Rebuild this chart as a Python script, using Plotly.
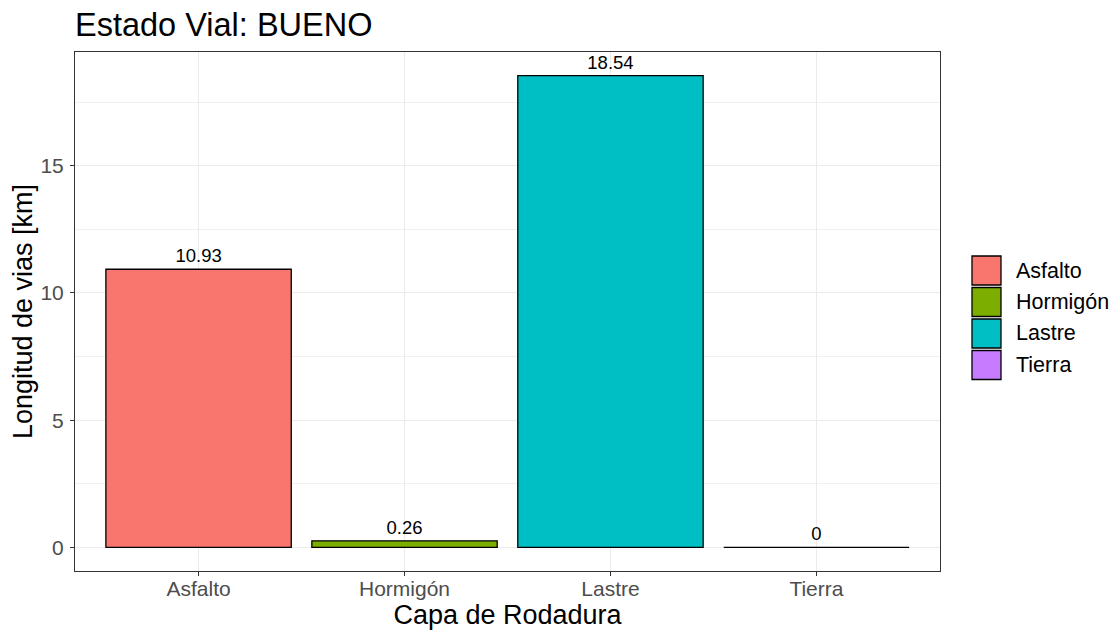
import plotly.graph_objects as go

categories = ["Asfalto", "Hormigón", "Lastre", "Tierra"]
values = [10.93, 0.26, 18.54, 0]
labels = ["10.93", "0.26", "18.54", "0"]
colors = ["#F8766D", "#7CAE00", "#00BFC4", "#C77CFF"]
title = "Estado Vial: BUENO"
x_title = "Capa de Rodadura"
y_title = "Longitud de vias [km]"
y_ticks = [0, 5, 10, 15]

OFF = 8  # page body margin
W, H = 1117 - OFF, 634 - OFF
L, T = 75 - OFF, 52 - OFF
pw, ph = 865, 519
R, B = W - L - pw, H - T - ph
FONT = "Liberation Sans, Arial, sans-serif"

fig = go.Figure()
fig.add_trace(go.Bar(
    x=categories, y=values,
    marker=dict(color=colors, line=dict(color="black", width=1.3)),
    text=labels, textposition="outside", cliponaxis=False,
    textfont=dict(family=FONT, size=18.5, color="black"),
    showlegend=False, width=0.9,
))

ymax = max(values)
pad = ymax * 0.05


def px_x(px):
    return (px - OFF - L) / pw


def px_y(py):
    return (T + ph - (py - OFF)) / ph


shapes = []
annotations = []
# manual legend (ggplot-style keys)
for i, name in enumerate(categories):
    top = 256 + i * 31.5
    shapes.append(dict(type="rect", xref="paper", yref="paper",
                       x0=px_x(972), x1=px_x(1001),
                       y0=px_y(top + 29), y1=px_y(top),
                       fillcolor=colors[i], line=dict(color="black", width=1.3)))
    annotations.append(dict(xref="paper", yref="paper", x=px_x(1014),
                            y=px_y(top + 14.5), xanchor="left", yanchor="middle",
                            text=name, showarrow=False,
                            font=dict(family=FONT, size=21.5, color="black")))

fig.update_layout(
    width=W, height=H,
    margin=dict(l=L, r=R, t=T, b=B, autoexpand=False),
    paper_bgcolor="white", plot_bgcolor="white",
    font=dict(family=FONT),
    title=dict(text=title, x=0, xref="paper", xanchor="left",
               y=1 - (25 - OFF) / H, yref="container", yanchor="middle",
               font=dict(family=FONT, size=32.5, color="black")),
    bargap=0.1,
    shapes=shapes, annotations=annotations,
    xaxis=dict(
        range=[-0.6, len(categories) - 0.4], automargin=False,
        showgrid=True, gridcolor="#EBEBEB", gridwidth=1.1,
        ticks="outside", ticklen=4, tickcolor="#333333", tickwidth=1,
        ticklabelstandoff=-5,
        tickfont=dict(family=FONT, size=21, color="#4D4D4D"),
        title=dict(text=x_title, font=dict(family=FONT, size=27, color="black"), standoff=4),
        showline=True, linecolor="#333333", linewidth=1, mirror=True,
        zeroline=False,
    ),
    yaxis=dict(
        range=[-pad, ymax + pad], automargin=False,
        tickvals=y_ticks,
        showgrid=True, gridcolor="#EBEBEB", gridwidth=1.1,
        minor=dict(dtick=2.5, tick0=0, showgrid=True, gridcolor="#F0F0F0", gridwidth=0.6, ticks=""),
        ticks="outside", ticklen=4, tickcolor="#333333", tickwidth=1,
        ticklabelstandoff=2,
        tickfont=dict(family=FONT, size=21, color="#4D4D4D"),
        title=dict(text=y_title, font=dict(family=FONT, size=27, color="black"), standoff=4),
        showline=True, linecolor="#333333", linewidth=1, mirror=True,
        zeroline=False,
    ),
)

fig.write_html("out.html")
